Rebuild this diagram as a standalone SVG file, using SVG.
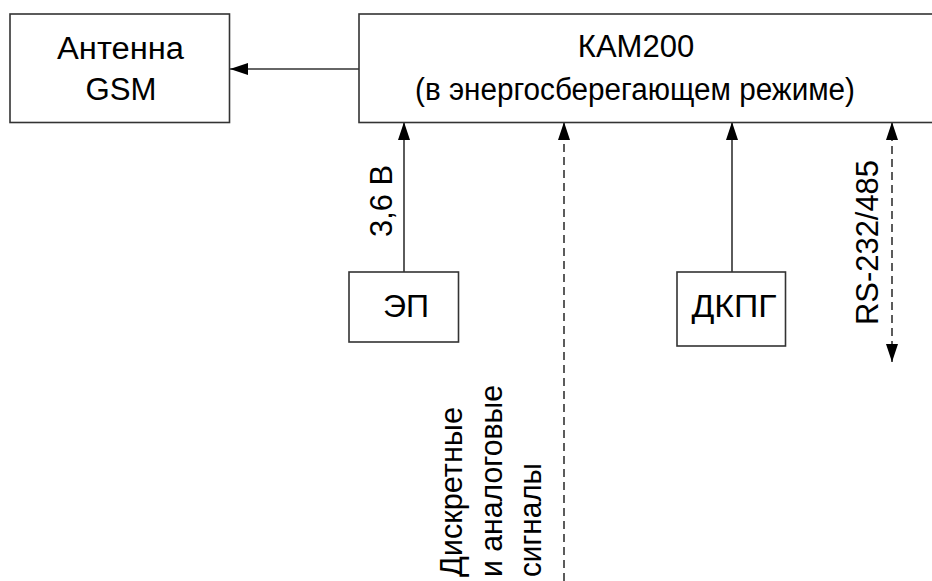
<svg xmlns="http://www.w3.org/2000/svg" width="932" height="581" viewBox="0 0 932 581">
<style>
.box{fill:#fff;stroke:#333;stroke-width:1.6}
.ln{fill:none;stroke:#333;stroke-width:1.6}
.dash{stroke-dasharray:8 5}
text{font-family:"Liberation Sans",Arial,sans-serif;font-size:31px;fill:#000}
.c{text-anchor:middle}
</style>
<defs>
<marker id="ah" viewBox="0 0 18 12" refX="18" refY="6" markerWidth="18" markerHeight="12" markerUnits="userSpaceOnUse" orient="auto-start-reverse">
<path d="M0,0 L18,6 L0,12 Z" fill="#000"/>
</marker>
</defs>
<rect width="932" height="581" fill="#fff"/>
<g id="connectors">
<line class="ln" x1="359" y1="69" x2="230" y2="69" marker-end="url(#ah)"/>
<line class="ln" x1="404" y1="272" x2="404" y2="122" marker-end="url(#ah)"/>
<line class="ln dash" x1="564" y1="581" x2="564" y2="122" marker-end="url(#ah)"/>
<line class="ln" x1="732" y1="272" x2="732" y2="122" marker-end="url(#ah)"/>
<line class="ln dash" x1="892" y1="362" x2="892" y2="122" marker-start="url(#ah)" marker-end="url(#ah)"/>
</g>
<g id="antenna">
<rect class="box" x="10" y="14" width="219.5" height="108.5"/>
<text class="c" x="120.5" y="59" textLength="127" lengthAdjust="spacingAndGlyphs">Антенна</text>
<text class="c" x="121" y="100" textLength="71" lengthAdjust="spacingAndGlyphs">GSM</text>
</g>
<g id="kam200">
<rect class="box" x="359" y="14" width="600" height="108.5"/>
<text class="c" x="636" y="57">КАМ200</text>
<text class="c" x="635" y="100" textLength="440" lengthAdjust="spacingAndGlyphs">(в энергосберегающем режиме)</text>
</g>
<g id="ep">
<rect class="box" x="349" y="272" width="109.5" height="70"/>
<text class="c" x="406" y="317" textLength="46" lengthAdjust="spacingAndGlyphs">ЭП</text>
</g>
<g id="dkpg">
<rect class="box" x="677" y="272" width="108.5" height="74"/>
<text class="c" x="734" y="317" textLength="85" lengthAdjust="spacingAndGlyphs">ДКПГ</text>
</g>
<g id="labels">
<text transform="translate(392,237) rotate(-90)" textLength="72" lengthAdjust="spacingAndGlyphs">3,6 В</text>
<text transform="translate(878,325) rotate(-90)" textLength="165" lengthAdjust="spacingAndGlyphs">RS-232/485</text>
<text transform="translate(462,577) rotate(-90)" textLength="170" lengthAdjust="spacingAndGlyphs">Дискретные</text>
<text transform="translate(502,577) rotate(-90)" textLength="192" lengthAdjust="spacingAndGlyphs">и аналоговые</text>
<text transform="translate(541,577) rotate(-90)" textLength="114" lengthAdjust="spacingAndGlyphs">сигналы</text>
</g>
</svg>
